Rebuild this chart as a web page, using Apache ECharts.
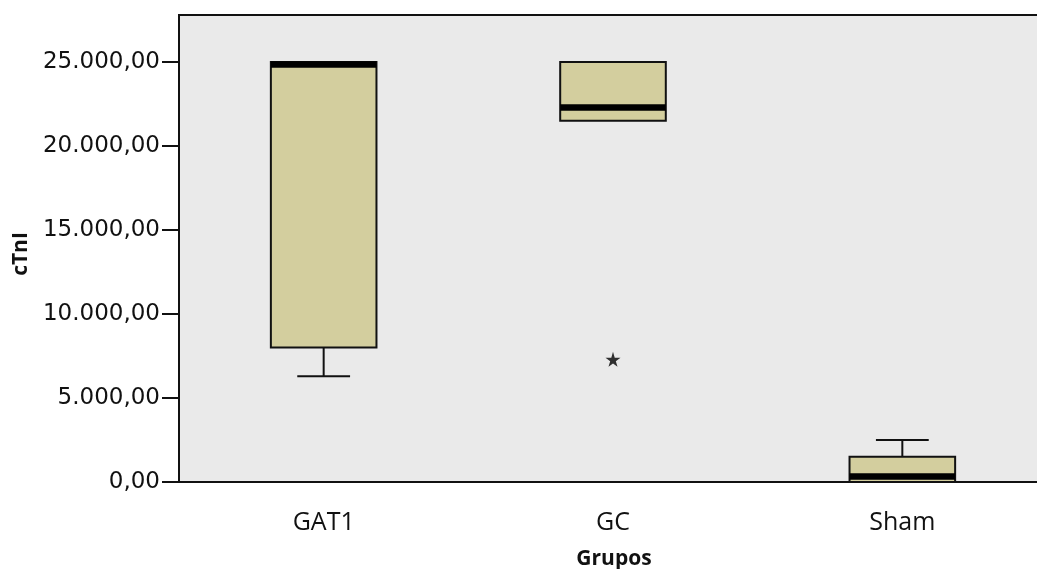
<!DOCTYPE html>
<html>
<head>
<meta charset="utf-8">
<title>cTnI por grupo</title>
<script src="https://cdn.jsdelivr.net/npm/echarts@6/dist/echarts.min.js"></script>
<style>
  html, body { margin: 0; padding: 0; background: #ffffff; overflow: hidden; }
  #chart { width: 1050px; height: 569px; }
</style>
</head>
<body>
<div id="chart"></div>
<script>
// Groups along the x axis
const categories = ['GAT1', 'GC', 'Sham'];

// Five-number summary per group (cTnI)
const whiskerLow  = [6300, 21500, 0];
const quartile1   = [8000, 21500, 0];
const medians     = [24850, 22300, 330];
const quartile3   = [25000, 25000, 1500];
const whiskerHigh = [25000, 25000, 2500];

// Extreme values drawn as stars: [group index, value]
const extremes = [[1, 7300]];

// Y axis ticks and range
const yTicks = [0, 5000, 10000, 15000, 20000, 25000];
const yMin = 0;
const yMax = 27800;

const boxData = categories.map((c, i) => [
  i, whiskerLow[i], quartile1[i], medians[i], quartile3[i], whiskerHigh[i]
]);

function formatNumber(v) {
  const parts = v.toFixed(2).split('.');
  return parts[0].replace(/\B(?=(\d{3})+(?!\d))/g, '.') + ',' + parts[1];
}

const FILL = '#d3ce9e';
const INK = '#111111';

function renderBox(params, api) {
  const idx = api.value(0);
  const lo = api.value(1), q1 = api.value(2), med = api.value(3),
        q3 = api.value(4), hi = api.value(5);
  const band = api.size([1, 0])[0];
  const bw = band * 0.365;
  const cw = bw / 2;
  const x = api.coord([idx, med])[0];
  const yLo = api.coord([idx, lo])[1];
  const yQ1 = api.coord([idx, q1])[1];
  const yMed = api.coord([idx, med])[1];
  const yQ3 = api.coord([idx, q3])[1];
  const yHi = api.coord([idx, hi])[1];
  const lineStyle = { stroke: INK, lineWidth: 2 };
  const children = [];
  if (hi > q3) {
    children.push({ type: 'line', shape: { x1: x, y1: yQ3, x2: x, y2: yHi }, style: lineStyle });
    children.push({ type: 'line', shape: { x1: x - cw / 2, y1: yHi, x2: x + cw / 2, y2: yHi }, style: lineStyle });
  }
  if (lo < q1) {
    children.push({ type: 'line', shape: { x1: x, y1: yQ1, x2: x, y2: yLo }, style: lineStyle });
    children.push({ type: 'line', shape: { x1: x - cw / 2, y1: yLo, x2: x + cw / 2, y2: yLo }, style: lineStyle });
  }
  children.push({
    type: 'rect',
    shape: { x: x - bw / 2, y: yQ3, width: bw, height: yQ1 - yQ3 },
    style: { fill: FILL, stroke: INK, lineWidth: 2 }
  });
  children.push({
    type: 'line',
    shape: { x1: x - bw / 2, y1: yMed, x2: x + bw / 2, y2: yMed },
    style: { stroke: '#000000', lineWidth: 6.5 }
  });
  return { type: 'group', children: children };
}

const chart = echarts.init(document.getElementById('chart'), null, { renderer: 'canvas' });

chart.setOption({
  animation: false,
  backgroundColor: '#ffffff',
  grid: {
    left: 179,
    top: 15,
    width: 868,
    height: 467,
    show: true,
    backgroundColor: '#eaeaea',
    borderColor: INK,
    borderWidth: 2
  },
  xAxis: {
    type: 'category',
    data: categories,
    boundaryGap: true,
    axisLine: { lineStyle: { color: INK, width: 2 } },
    axisTick: { alignWithLabel: true, length: 12, lineStyle: { color: INK, width: 2 } },
    axisLabel: {
      margin: 28,
      fontFamily: 'Open Sans',
      fontSize: 25,
      color: '#111111'
    },
    splitLine: { show: false }
  },
  yAxis: {
    type: 'value',
    min: yMin,
    max: yMax,
    axisLine: { show: true, lineStyle: { color: INK, width: 2 } },
    axisTick: { show: true, length: 17, customValues: yTicks, lineStyle: { color: INK, width: 2 } },
    axisLabel: {
      customValues: yTicks,
      margin: 19,
      fontFamily: 'DejaVu Sans',
      fontSize: 23,
      color: '#111111',
      formatter: formatNumber
    },
    splitLine: { show: false }
  },
  graphic: [
    {
      type: 'text',
      x: 21,
      y: 254,
      rotation: Math.PI / 2,
      style: {
        text: 'cTnI',
        font: 'bold 21px "Open Sans"',
        fill: '#111111',
        align: 'center',
        verticalAlign: 'middle'
      }
    },
    {
      type: 'text',
      x: 614,
      y: 559,
      style: {
        text: 'Grupos',
        font: 'bold 21px "Open Sans"',
        fill: '#111111',
        align: 'center',
        verticalAlign: 'middle'
      }
    }
  ],
  series: [
    {
      type: 'custom',
      name: 'cTnI',
      renderItem: renderBox,
      encode: { x: 0, y: [1, 2, 3, 4, 5] },
      data: boxData,
      z: 3
    },
    {
      type: 'scatter',
      name: 'Extremos',
      data: extremes,
      symbol: 'path://M50,0 L61,35 L98,35 L68,57 L79,91 L50,70 L21,91 L32,57 L2,35 L39,35 Z',
      symbolSize: 15,
      itemStyle: { color: '#000000' },
      z: 4
    }
  ]
});
</script>
</body>
</html>
